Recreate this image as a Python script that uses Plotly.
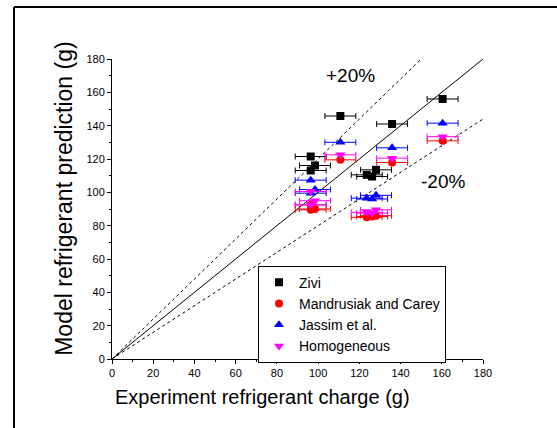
import plotly.graph_objects as go

exp_charge = [160.4, 110.8, 135.9, 96.4, 98.5, 96.4, 128.1, 123.6, 126.2]
exp_err = [7.5, 7.5, 7.5, 7.5, 7.5, 7.5, 7.5, 7.5, 7.5]
zivi = [156.0, 145.8, 141.0, 121.5, 116.1, 113.1, 113.5, 110.5, 109.5]
mandrusiak = [130.9, 119.5, 117.9, 92.5, 90.0, 89.5, 86.0, 85.0, 85.5]
jassim = [141.5, 130.0, 126.7, 107.3, 101.7, 99.5, 98.2, 96.5, 96.0]
homogeneous = [133.4, 122.5, 120.5, 100.5, 95.0, 92.5, 89.5, 88.0, 87.5]

line_x = [0, 180]
plus20_x = [0, 150]
minus20_x = [0, 180]

FONT = "Liberation Sans, Arial, sans-serif"

fig = go.Figure()

# reference lines
fig.add_trace(go.Scatter(x=line_x, y=line_x, mode="lines",
                         line=dict(color="black", width=1), showlegend=False, hoverinfo="skip"))
fig.add_trace(go.Scatter(x=plus20_x, y=[v * 1.2 for v in plus20_x], mode="lines",
                         line=dict(color="black", width=1, dash="dot"), showlegend=False, hoverinfo="skip"))
fig.add_trace(go.Scatter(x=minus20_x, y=[v * 0.8 for v in minus20_x], mode="lines",
                         line=dict(color="black", width=1, dash="dot"), showlegend=False, hoverinfo="skip"))

series = [
    ("Zivi", zivi, "black", "square", 8),
    ("Mandrusiak and Carey", mandrusiak, "red", "circle", 8),
    ("Jassim et al.", jassim, "blue", "triangle-up", 9),
    ("Homogeneous", homogeneous, "magenta", "triangle-down", 9),
]
for name, ys, col, sym, sz in series:
    fig.add_trace(go.Scatter(
        x=exp_charge, y=ys, mode="markers", name=name,
        marker=dict(color=col, symbol=sym, size=sz, line=dict(width=0)),
        error_x=dict(type="data", array=exp_err, color=col, thickness=1, width=3),
    ))

fig.add_annotation(x=115.5, y=170, text="+20%", showarrow=False,
                   font=dict(family=FONT, size=19, color="black"))
fig.add_annotation(x=160.6, y=106.5, text="-20%", showarrow=False,
                   font=dict(family=FONT, size=19, color="black"))

# axis titles
fig.add_annotation(xref="paper", yref="paper", x=(262 - 112) / 371, y=(359.4 - 397) / 300.4,
                   text="Experiment refrigerant charge (g)", showarrow=False,
                   font=dict(family=FONT, size=20, color="black"), xanchor="center", yanchor="middle")
fig.add_annotation(xref="paper", yref="paper", x=(64 - 112) / 371, y=(359.4 - 199) / 300.4,
                   text="Model refrigerant prediction (g)", showarrow=False, textangle=-90,
                   font=dict(family=FONT, size=23, color="black"), xanchor="center", yanchor="middle")

# outer frame
fx = (14 - 112) / 371
fy = (359.4 - 7) / 300.4
fig.add_shape(type="line", xref="paper", yref="paper", x0=fx, y0=fy, x1=1.3, y1=fy,
              line=dict(color="black", width=2))
fig.add_shape(type="line", xref="paper", yref="paper", x0=fx, y0=fy, x1=fx, y1=-0.3,
              line=dict(color="black", width=2))

axis_common = dict(
    range=[0, 180], dtick=20, tick0=0, ticks="outside", ticklen=4, tickwidth=1,
    tickcolor="black", showline=True, linecolor="black", linewidth=1,
    showgrid=False, zeroline=False, mirror=False,
    tickfont=dict(family=FONT, size=11, color="black"),
    minor=dict(dtick=10, ticks="outside", ticklen=2, tickcolor="black", showgrid=False),
)
fig.update_xaxes(**axis_common)
fig.update_yaxes(**axis_common)

fig.update_layout(
    width=557, height=428,
    margin=dict(l=112, r=74, t=59, b=69),
    plot_bgcolor="white", paper_bgcolor="white",
    font=dict(family=FONT, color="black"),
    legend=dict(
        x=(258 - 112) / 371, y=(359.4 - 266) / 300.4, xanchor="left", yanchor="top",
        bordercolor="black", borderwidth=1, bgcolor="white",
        font=dict(family=FONT, size=14, color="black"),
        tracegroupgap=0, itemwidth=30,
    ),
)

fig.write_html("out.html")
